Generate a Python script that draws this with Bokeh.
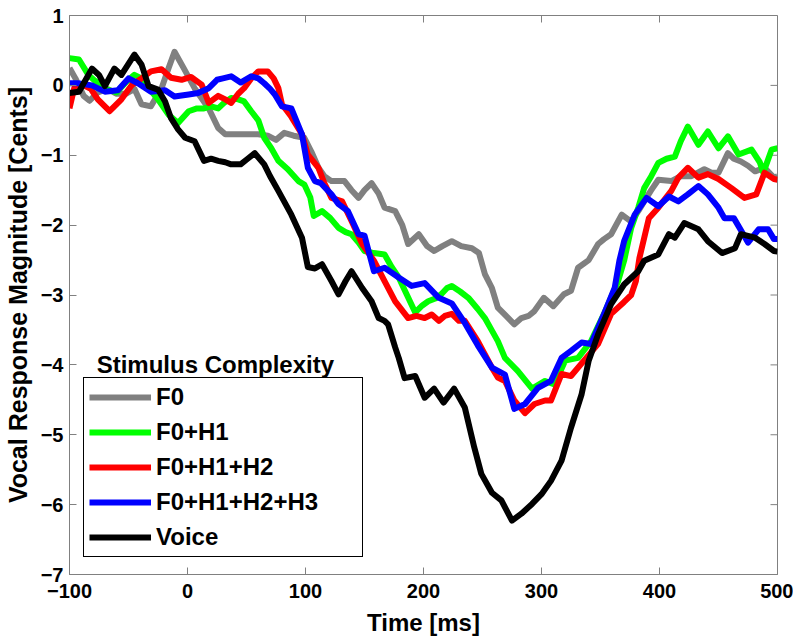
from bokeh.plotting import figure
from bokeh.models import FixedTicker, Label
from bokeh.embed import file_html
from bokeh.resources import INLINE

# ---- data ----
f0_t = [-100, -95, -88, -83, -76, -68, -60, -52, -45, -39, -31, -22, -16, -11, -3, 6, 18, 26, 32, 40,
        50, 60, 68, 75, 82, 90, 99, 105, 111, 116, 122, 128, 133, 139, 145, 150, 156, 162, 167, 176,
        182, 187, 196, 203, 209, 216, 224, 232, 241, 247, 252, 258, 263, 270, 277, 283, 289, 294, 302, 310,
        319, 325, 331, 340, 348, 353, 359, 368, 376, 382, 387, 393, 399, 410, 418, 427, 438, 444, 450, 458,
        463, 469, 475, 481, 489, 497, 500]
f0_v = [0.25, 0.1, -0.15, -0.22, -0.1, -0.05, -0.12, -0.12, -0.05, -0.27, -0.3, -0.04, 0.25, 0.48, 0.24, -0.04, -0.33, -0.61, -0.7, -0.7,
        -0.7, -0.7, -0.72, -0.78, -0.68, -0.72, -0.75, -0.95, -1.18, -1.3, -1.37, -1.37, -1.37, -1.5, -1.61, -1.5, -1.4, -1.55, -1.75, -1.8,
        -2.0, -2.27, -2.13, -2.3, -2.37, -2.3, -2.23, -2.3, -2.33, -2.4, -2.7, -2.9, -3.18, -3.3, -3.42, -3.33, -3.3, -3.23, -3.04, -3.16,
        -2.99, -2.94, -2.61, -2.5, -2.27, -2.2, -2.13, -1.85, -1.95, -1.8, -1.66, -1.5, -1.35, -1.37, -1.3, -1.3, -1.2, -1.25, -1.25, -0.97,
        -1.05, -1.09, -1.15, -1.23, -1.18, -1.32, -1.3]

h1_t = [-100, -92, -84, -78, -70, -60, -52, -45, -39, -33, -25, -16, -8, 1, 8, 14, 20, 26, 31, 37,
        43, 48, 54, 60, 65, 71, 77, 85, 94, 99, 104, 107, 114, 121, 128, 134, 139, 145, 150, 158,
        167, 173, 179, 186, 193, 199, 204, 210, 215, 220, 224, 231, 238, 246, 252, 258, 263, 269, 280, 292,
        303, 311, 320, 331, 342, 353, 365, 370, 376, 382, 387, 393, 399, 406, 413, 418, 424, 433, 441, 450,
        458, 467, 478, 485, 488, 495, 500]
h1_v = [0.39, 0.37, 0.15, 0.06, -0.05, -0.1, 0.05, 0.15, 0.1, -0.04, -0.2, -0.42, -0.54, -0.37, -0.33, -0.33, -0.3, -0.33, -0.25, -0.18,
        -0.2, -0.23, -0.37, -0.5, -0.75, -0.9, -1.08, -1.2, -1.37, -1.42, -1.6, -1.87, -1.8, -1.9, -2.04, -2.1, -2.13, -2.25, -2.37, -2.4,
        -2.42, -2.6, -2.75, -3.0, -3.25, -3.15, -3.09, -3.05, -2.99, -2.9, -2.87, -2.95, -3.04, -3.2, -3.33, -3.51, -3.66, -3.9, -4.09, -4.34,
        -4.23, -4.28, -3.94, -3.9, -3.66, -3.27, -2.8, -2.51, -2.04, -1.75, -1.47, -1.3, -1.11, -1.05, -1.02, -0.8, -0.59, -0.85, -0.66, -0.9,
        -0.73, -0.99, -0.92, -1.1, -1.25, -0.92, -0.9]

h2_t = [-100, -96, -88, -82, -76, -66, -56, -47, -39, -31, -22, -14, -5, 3, 12, 18, 26, 32, 37, 43,
        48, 54, 60, 68, 73, 77, 80, 88, 97, 102, 111, 116, 122, 131, 139, 148, 158, 167, 176, 187,
        194, 201, 207, 213, 218, 224, 230, 235, 246, 252, 258, 263, 269, 277, 286, 294, 303, 308, 317, 325,
        336, 348, 359, 370, 376, 380, 383, 391, 399, 410, 416, 424, 433, 441, 450, 461, 472, 482, 489, 497,
        500]
h2_v = [-0.33, -0.04, 0.0, -0.05, -0.2, -0.37, -0.2, 0.01, 0.1, 0.2, 0.23, 0.11, 0.08, 0.12, 0.01, -0.25, -0.15, -0.2, -0.25, -0.12,
        -0.04, 0.1, 0.2, 0.2, 0.1, -0.04, -0.27, -0.45, -0.7, -0.99, -1.18, -1.4, -1.61, -1.66, -1.94, -2.27, -2.51, -2.8, -3.09, -3.33,
        -3.3, -3.33, -3.28, -3.37, -3.3, -3.27, -3.37, -3.37, -3.66, -3.85, -4.04, -4.18, -4.23, -4.51, -4.69, -4.56, -4.51, -4.51, -4.13, -4.16,
        -3.94, -3.7, -3.27, -3.1, -3.0, -2.8, -2.47, -1.9, -1.75, -1.51, -1.32, -1.18, -1.32, -1.27, -1.34, -1.47, -1.61, -1.56, -1.25, -1.34,
        -1.35]

h3_t = [-100, -93, -81, -70, -59, -50, -42, -31, -19, -11, 1, 9, 18, 25, 30, 37, 45, 54, 60, 65,
        70, 74, 80, 88, 97, 102, 108, 113, 122, 128, 136, 145, 150, 158, 167, 179, 190, 201, 213, 224,
        235, 246, 258, 269, 277, 286, 297, 308, 317, 325, 334, 342, 353, 362, 366, 370, 379, 389, 399, 408,
        416, 424, 433, 441, 450, 455, 463, 471, 475, 484, 492, 497, 500]
h3_v = [0.03, 0.03, 0.0, -0.09, -0.07, 0.1, 0.03, -0.09, -0.07, -0.16, -0.13, -0.11, -0.04, 0.08, 0.1, 0.13, 0.04, 0.13, 0.1, 0.03,
        -0.05, -0.13, -0.3, -0.33, -0.7, -1.18, -1.37, -1.4, -1.56, -1.7, -1.8, -2.13, -2.15, -2.66, -2.61, -2.75, -2.87, -2.83, -3.04, -3.12,
        -3.4, -3.72, -4.04, -4.14, -4.63, -4.56, -4.33, -4.23, -3.9, -3.8, -3.68, -3.7, -3.27, -2.9, -2.51, -2.23, -1.85, -1.61, -1.73, -1.59,
        -1.66, -1.56, -1.44, -1.56, -1.75, -1.9, -1.9, -2.13, -2.25, -2.06, -2.06, -2.2, -2.2]

voice_t = [-100, -92, -81, -75, -70, -62, -56, -45, -39, -33, -25, -19, -14, -8, -2, 6, 14, 20, 26, 32,
           37, 45, 51, 57, 65, 70, 77, 88, 97, 102, 108, 114, 122, 128, 134, 139, 148, 156, 162, 167,
           170, 176, 179, 184, 193, 201, 209, 217, 226, 235, 243, 249, 258, 266, 275, 283, 292, 300, 308, 317,
           325, 334, 340, 348, 359, 370, 382, 387, 399, 408, 413, 421, 433, 441, 453, 464, 469, 481, 489, 497,
           500]
voice_v = [-0.11, -0.09, 0.24, 0.15, -0.01, 0.24, 0.15, 0.44, 0.3, -0.01, -0.06, -0.23, -0.47, -0.63, -0.75, -0.8, -1.08, -1.05, -1.08, -1.1,
           -1.13, -1.13, -1.05, -0.97, -1.13, -1.3, -1.51, -1.85, -2.18, -2.6, -2.62, -2.56, -2.8, -2.99, -2.8, -2.66, -2.9, -3.09, -3.33, -3.37,
           -3.42, -3.75, -3.9, -4.19, -4.16, -4.47, -4.34, -4.54, -4.34, -4.61, -5.18, -5.56, -5.83, -5.94, -6.23, -6.13, -5.99, -5.85, -5.66, -5.37,
           -4.9, -4.42, -3.94, -3.56, -3.13, -2.85, -2.66, -2.51, -2.42, -2.13, -2.18, -1.97, -2.06, -2.23, -2.4, -2.33, -2.13, -2.18, -2.27, -2.37,
           -2.38]

series_names = ["F0", "F0+H1", "F0+H1+H2", "F0+H1+H2+H3", "Voice"]
series_colors = ["#808080", "#00ff00", "#ff0000", "#0000ff", "#000000"]
x_ticks = [-100, 0, 100, 200, 300, 400, 500]
y_ticks = [-7, -6, -5, -4, -3, -2, -1, 0, 1]

FONT = "Liberation Sans"
FRAME = "#808080"
X0, X1, Y0, Y1 = -100, 500, -7, 1
FRAME_W, FRAME_H = 708, 559
TICK_PX = 7

p = figure(frame_width=FRAME_W, frame_height=FRAME_H, x_range=(X0, X1), y_range=(Y0, Y1),
           output_backend="svg", toolbar_location=None,
           min_border_left=60, min_border_right=16, min_border_top=15, min_border_bottom=60)
p.background_fill_color = "white"
p.border_fill_color = "white"
p.outline_line_color = FRAME
p.outline_line_width = 1
p.xgrid.visible = False
p.ygrid.visible = False

for ax, ticks in ((p.xaxis[0], x_ticks), (p.yaxis[0], y_ticks)):
    ax.ticker = FixedTicker(ticks=ticks)
    ax.major_tick_in = TICK_PX
    ax.major_tick_out = 0
    ax.minor_tick_line_color = None
    ax.axis_line_color = FRAME
    ax.major_tick_line_color = FRAME
    ax.major_label_text_font = FONT
    ax.major_label_text_font_style = "bold"
    ax.major_label_text_font_size = "20px"
    ax.major_label_text_color = "black"
    ax.axis_label_text_font = FONT
    ax.axis_label_text_font_style = "bold"
    ax.axis_label_text_color = "black"

p.xaxis.axis_label = "Time [ms]"
p.xaxis.axis_label_text_font_size = "24px"
p.xaxis.major_label_standoff = 9
p.xaxis.axis_label_standoff = 8
p.yaxis.axis_label = "Vocal Response Magnitude [Cents]"
p.yaxis.axis_label_text_font_size = "25px"
p.yaxis.major_label_standoff = 6
p.yaxis.axis_label_standoff = 6

# MATLAB-style box ticks on the right and top edges, derived from the tick lists
dx = TICK_PX * (X1 - X0) / FRAME_W
dy = TICK_PX * (Y1 - Y0) / FRAME_H
p.segment(x0=[X1] * len(y_ticks), y0=y_ticks, x1=[X1 - dx] * len(y_ticks), y1=y_ticks,
          line_color=FRAME, line_width=1)
p.segment(x0=x_ticks, y0=[Y1] * len(x_ticks), x1=x_ticks, y1=[Y1 - dy] * len(x_ticks),
          line_color=FRAME, line_width=1)

all_t = [f0_t, h1_t, h2_t, h3_t, voice_t]
all_v = [f0_v, h1_v, h2_v, h3_v, voice_v]
for t, v, name, col in zip(all_t, all_v, series_names, series_colors):
    p.line(t, v, line_color=col, line_width=6, line_join="round", legend_label=name)

lg = p.legend[0]
lg.location = (14, 17)
lg.border_line_color = "black"
lg.border_line_alpha = 1.0
lg.border_line_width = 1.5
lg.background_fill_color = "white"
lg.background_fill_alpha = 1.0
lg.label_text_font = FONT
lg.label_text_font_style = "bold"
lg.label_text_font_size = "24px"
lg.label_text_color = "black"
lg.glyph_width = 62
lg.glyph_height = 24
lg.label_height = 24
lg.label_width = 201
lg.label_standoff = 5
lg.spacing = 7
lg.padding = 5
lg.margin = 0

title = Label(x=-77, y=-3.99, text="Stimulus Complexity", text_font=FONT,
              text_font_style="bold", text_font_size="24px", text_color="black",
              text_baseline="alphabetic", text_align="left")
p.add_layout(title)

open("out.html", "w").write(file_html(p, INLINE))
